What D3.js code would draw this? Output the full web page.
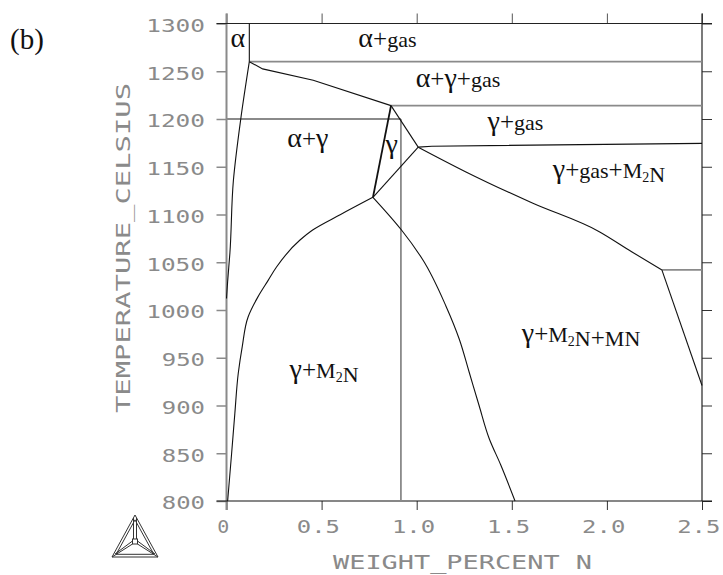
<!DOCTYPE html>
<html>
<head>
<meta charset="utf-8">
<script src="https://cdn.jsdelivr.net/npm/d3@7"></script>
<style>
  body { margin: 0; background: #fff; }
  svg { display: block; }
  .tick-label { font-family: "DejaVu Sans Mono", monospace; font-size: 18px; fill: #8a8a8a; }
  .axis-title { font-family: "DejaVu Sans Mono", monospace; font-size: 20px; fill: #8a8a8a; }
  .phase { font-family: "Liberation Serif", "Times New Roman", serif; fill: #111; }
</style>
</head>
<body>
<div id="chart"></div>
<script>
// axis ticks
const xTicks = [0, 0.5, 1.0, 1.5, 2.0, 2.5];
const xTickLabels = ['0', '0.5', '1.0', '1.5', '2.0', '2.5'];
const yTicks = [800, 850, 900, 950, 1000, 1050, 1100, 1150, 1200, 1250, 1300];

// phase boundaries, [wt% N, temperature C]
const alphaTop = [[0.12, 1300], [0.12, 1260]];
const alphaLeft = [[0.12, 1260], [0.075, 1200], [0.036, 1135], [0.018, 1060], [0.006, 1030], [0.0, 1012]];
const alphaGammaGas = [[0.12, 1260], [0.19, 1252.5], [0.456, 1240.5], [0.865, 1214]];
const gammaLeft = [[0.865, 1214], [0.77, 1118]];
const gammaRight = [[0.865, 1214], [1.008, 1170.5]];
const gammaLower = [[1.008, 1170.5], [0.77, 1118]];
const gasM2N = [[1.008, 1170.5], [1.08, 1171.5], [2.5, 1174.5]];
const m2nUpper = [[1.008, 1170.5], [1.259, 1144.6], [1.608, 1112], [1.96, 1082], [2.13, 1061], [2.289, 1042]];
const mnRight = [[2.289, 1042], [2.5, 921]];
const m2nSolvus = [[0.006, 800], [0.027, 850], [0.044, 892], [0.062, 934], [0.083, 962], [0.114, 993],
  [0.166, 1014], [0.219, 1031], [0.263, 1045], [0.385, 1073], [0.455, 1084], [0.6, 1100], [0.77, 1118]];
const mnSolvus = [[0.77, 1118], [0.919, 1084], [1.032, 1052.6], [1.154, 1004], [1.224, 969.4], [1.276, 934.8],
  [1.328, 900], [1.381, 865.5], [1.442, 837.7], [1.517, 800]];

// gray lines
const gas1260 = [[0.12, 1260], [2.5, 1260]];
const gas1214 = [[0.865, 1214], [2.5, 1214]];
const iso1200 = [[0, 1200], [0.917, 1200]];
const comp092 = [[0.917, 1200], [0.917, 800]];
const mn1042 = [[2.289, 1042], [2.5, 1042]];

// region labels ("_2" = subscript 2)
const phaseNames = ['α', 'α+gas', 'α+γ+gas', 'γ+gas', 'α+γ', 'γ', 'γ+gas+M_2N', 'γ+M_2N+MN', 'γ+M_2N'];
const phaseN = [0.06, 0.846, 1.217, 1.519, 0.428, 0.868, 2.011, 1.864, 0.513];
const phaseT = [1275.7, 1275.7, 1233.2, 1188.5, 1171, 1164.4, 1137.9, 966.8, 928.5];

const width = 723, height = 575;
const margin = {top: 23.5, right: 21, bottom: 74, left: 226.5};

const svg = d3.select('#chart').append('svg')
  .attr('width', width)
  .attr('height', height);

const x = d3.scaleLinear().domain([0, 2.5]).range([margin.left, width - margin.right]);
const y = d3.scaleLinear().domain([800, 1300]).range([height - margin.bottom, margin.top]);

const line = d3.line().x(d => x(d[0])).y(d => y(d[1]));
const smoothY = d3.line().x(d => x(d[0])).y(d => y(d[1])).curve(d3.curveMonotoneY);
const smoothX = d3.line().x(d => x(d[0])).y(d => y(d[1])).curve(d3.curveMonotoneX);

const labelLen = s => 15.6 * s.length - 3.6;

// left axis
const yAxis = svg.append('g')
  .attr('transform', `translate(${x(0)},0)`)
  .call(d3.axisLeft(y).tickValues(yTicks).tickSize(10).tickSizeOuter(0).tickPadding(11.5).tickFormat(d3.format('d')));
yAxis.select('.domain').remove();
yAxis.selectAll('line').attr('stroke', '#8a8a8a').attr('stroke-width', 1.5);
yAxis.selectAll('text')
  .attr('class', 'tick-label')
  .attr('dy', '0.44em')
  .attr('textLength', function() { return labelLen(this.textContent); })
  .attr('lengthAdjust', 'spacingAndGlyphs');

// right axis ticks
const yRight = svg.append('g')
  .attr('transform', `translate(${x(2.5)},0)`)
  .call(d3.axisRight(y).tickValues(yTicks).tickSize(10).tickSizeOuter(0).tickFormat(''));
yRight.select('.domain').remove();
yRight.selectAll('line').attr('stroke', '#333');

// bottom axis
const xAxis = svg.append('g')
  .attr('transform', `translate(0,${y(800)})`)
  .call(d3.axisBottom(x).tickValues(xTicks).tickSize(9).tickSizeOuter(0).tickFormat((d, i) => xTickLabels[i]));
xAxis.select('.domain').remove();
xAxis.selectAll('line').attr('stroke', '#333');
xAxis.selectAll('text')
  .attr('class', 'tick-label')
  .attr('y', 32).attr('dy', 0)
  .attr('x', -3.7)
  .attr('textLength', function() { return labelLen(this.textContent); })
  .attr('lengthAdjust', 'spacingAndGlyphs');

// top axis ticks
const xTop = svg.append('g')
  .attr('transform', `translate(0,${y(1300)})`)
  .call(d3.axisTop(x).tickValues(xTicks).tickSize(10).tickSizeOuter(0).tickFormat(''));
xTop.select('.domain').remove();
xTop.selectAll('line').attr('stroke', '#555');

// frame lines, running past the corners like the ticks
const frame = svg.append('g').attr('fill', 'none');
frame.append('line')
  .attr('x1', x(0)).attr('x2', x(0)).attr('y1', y(1300) - 10).attr('y2', y(800) + 9)
  .attr('stroke', '#8a8a8a').attr('stroke-width', 2);
frame.append('line')
  .attr('x1', x(2.5)).attr('x2', x(2.5)).attr('y1', y(1300) - 10).attr('y2', y(800))
  .attr('stroke', '#222').attr('stroke-width', 1.2);
frame.append('line')
  .attr('x1', x(0) - 10).attr('x2', x(2.5) + 10).attr('y1', y(1300)).attr('y2', y(1300))
  .attr('stroke', '#222').attr('stroke-width', 1.2);
frame.append('line')
  .attr('x1', x(0) - 10).attr('x2', x(2.5) + 10).attr('y1', y(800)).attr('y2', y(800))
  .attr('stroke', '#111').attr('stroke-width', 1.2);

// gray construction lines
const grayG = svg.append('g').attr('fill', 'none').attr('stroke', '#8a8a8a').attr('stroke-width', 1.8);
[gas1260, gas1214, iso1200, comp092, mn1042].forEach(d => grayG.append('path').attr('d', line(d)));

// black phase boundaries
const blackG = svg.append('g').attr('fill', 'none').attr('stroke', '#111').attr('stroke-width', 1.1);
[alphaTop, alphaGammaGas, gammaRight, gammaLower, gasM2N, mnRight].forEach(d => blackG.append('path').attr('d', line(d)));
[alphaLeft, m2nSolvus, mnSolvus].forEach(d => blackG.append('path').attr('d', smoothY(d)));
blackG.append('path').attr('d', smoothX(m2nUpper));
blackG.append('path').attr('d', line(gammaLeft)).attr('stroke-width', 1.8);

// phase labels
const labels = svg.append('g');
phaseNames.forEach((name, i) => {
  const t = labels.append('text')
    .attr('class', 'phase')
    .attr('x', x(phaseN[i]))
    .attr('y', y(phaseT[i]))
    .attr('text-anchor', 'middle');
  let k = 0;
  while (k < name.length) {
    const c = name[k];
    if (c === '_') {
      t.append('tspan').attr('font-size', 14).attr('dy', 4).text(name[k + 1]);
      t.append('tspan').attr('dy', -4).attr('font-size', 22).text('');
      k += 2;
      continue;
    }
    const size = (c === 'α' || c === 'γ') ? 28 : (c === '+' ? 25 : 22);
    t.append('tspan').attr('font-size', size).text(c);
    k += 1;
  }
});

// panel letter
svg.append('text')
  .attr('class', 'phase')
  .attr('x', 10).attr('y', 49)
  .attr('font-size', 29)
  .text('(b)');

// axis titles
svg.append('text')
  .attr('class', 'axis-title')
  .attr('x', 462.5).attr('y', 569)
  .attr('text-anchor', 'middle')
  .attr('textLength', 259)
  .attr('lengthAdjust', 'spacingAndGlyphs')
  .text('WEIGHT_PERCENT N');

svg.append('text')
  .attr('class', 'axis-title')
  .attr('transform', 'translate(130,248) rotate(-90)')
  .attr('text-anchor', 'middle')
  .attr('textLength', 330)
  .attr('lengthAdjust', 'spacingAndGlyphs')
  .text('TEMPERATURE_CELSIUS');

// logo
const logo = svg.append('g').attr('fill', 'none').attr('stroke', '#333').attr('stroke-width', 1);
const A = [135, 515], B = [112, 557], C = [158, 557];
const G = [135, 542];
const shrink = (p, f) => [G[0] + (p[0] - G[0]) * f, G[1] + (p[1] - G[1]) * f];
logo.append('path').attr('d', d3.line()([A, B, C, A]));
logo.append('path').attr('d', d3.line()([shrink(A, 0.82), shrink(B, 0.82), shrink(C, 0.82), shrink(A, 0.82)]));
logo.append('path').attr('d', d3.line()([[A[0] - 1.5, A[1] + 3], [G[0] - 1.5, G[1] - 3]]));
logo.append('path').attr('d', d3.line()([[A[0] + 1.5, A[1] + 3], [G[0] + 1.5, G[1] - 3]]));
logo.append('rect').attr('x', G[0] - 2.5).attr('y', G[1] - 3).attr('width', 5).attr('height', 5);
logo.append('path').attr('d', d3.line()([[G[0] - 2.5, G[1] + 2], B]));
logo.append('path').attr('d', d3.line()([[G[0] - 2.5, G[1] - 1], [B[0] + 3, B[1] - 3]]));
logo.append('path').attr('d', d3.line()([[G[0] + 2.5, G[1] + 2], C]));
logo.append('path').attr('d', d3.line()([[G[0] + 2.5, G[1] - 1], [C[0] - 3, C[1] - 3]]));
</script>
</body>
</html>
